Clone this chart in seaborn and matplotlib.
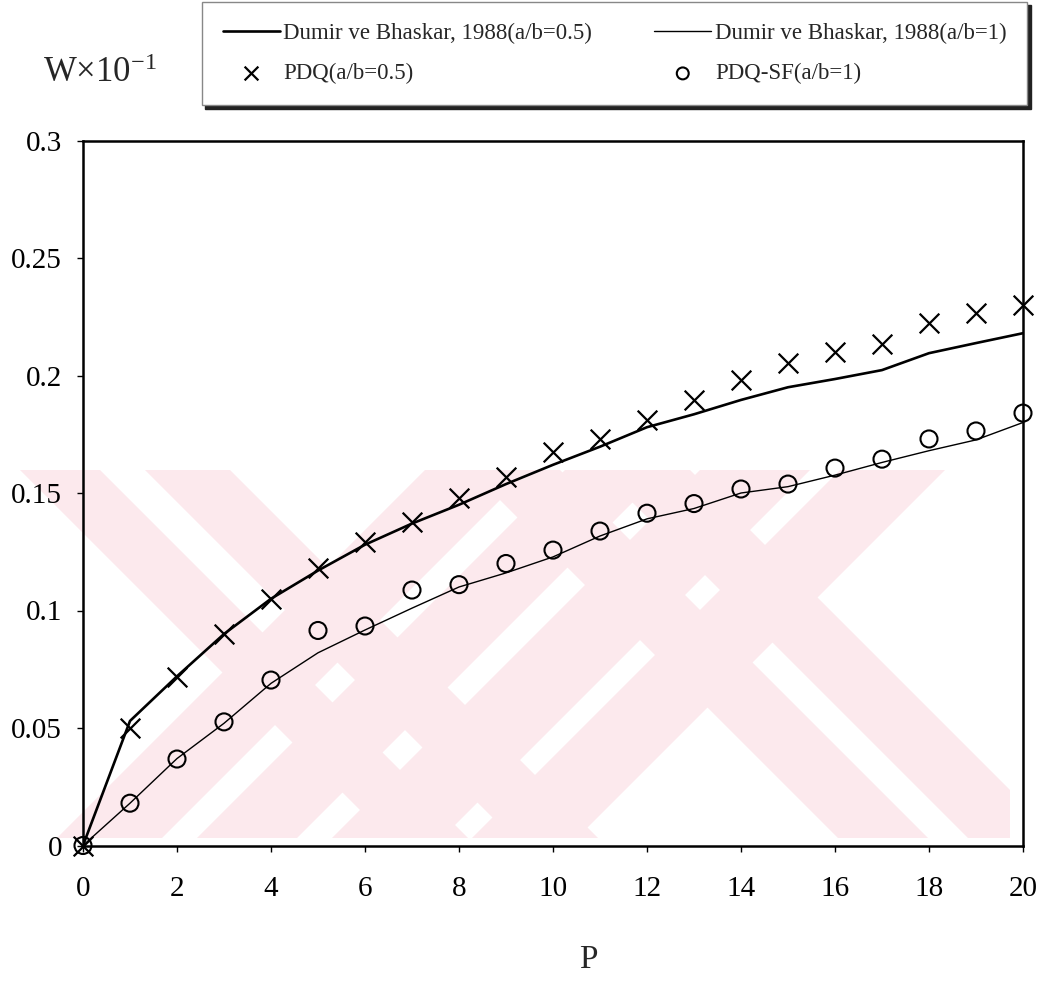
import matplotlib
matplotlib.use("Agg")
import matplotlib.pyplot as plt
import seaborn as sns
from matplotlib.patches import Polygon, Rectangle

# ---------------- data ----------------
P = list(range(21))
dumir_05 = [0, 0.053, 0.072, 0.090, 0.105, 0.117, 0.128, 0.137, 0.145, 0.1538, 0.162,
            0.1697, 0.178, 0.1835, 0.1896, 0.195, 0.1985, 0.2023, 0.2095, 0.2138, 0.218]
dumir_1 = [0, 0.018, 0.037, 0.052, 0.069, 0.082, 0.0917, 0.101, 0.110, 0.116, 0.1228,
           0.1317, 0.139, 0.1434, 0.150, 0.1527, 0.1576, 0.163, 0.168, 0.1726, 0.180]
pdq_05 = [0, 0.050, 0.0715, 0.090, 0.105, 0.118, 0.129, 0.1377, 0.148, 0.157, 0.1675,
          0.173, 0.181, 0.1895, 0.198, 0.2054, 0.210, 0.2134, 0.2223, 0.2266, 0.230]
pdq_sf_1 = [0, 0.018, 0.0368, 0.0526, 0.0704, 0.0915, 0.0934, 0.1087, 0.111, 0.120, 0.1257,
            0.1338, 0.1414, 0.1455, 0.1517, 0.1538, 0.1606, 0.1644, 0.173, 0.1764, 0.184]

label_d05 = "Dumir ve Bhaskar, 1988(a/b=0.5)"
label_d1 = "Dumir ve Bhaskar, 1988(a/b=1)"
label_p05 = "PDQ(a/b=0.5)"
label_p1 = "PDQ-SF(a/b=1)"

x_ticks = [0, 2, 4, 6, 8, 10, 12, 14, 16, 18, 20]
y_ticks = [0, 0.05, 0.1, 0.15, 0.2, 0.25, 0.3]
y_tick_labels = ["0", "0.05", "0.1", "0.15", "0.2", "0.25", "0.3"]
x_label = "P"
y_label = "W\u00d710$^{\\mathregular{-1}}$"

# ---------------- style ----------------
sns.set_style("ticks")
plt.rcParams["font.family"] = ["Liberation Serif", "DejaVu Serif"]
plt.rcParams["mathtext.fontset"] = "custom"
plt.rcParams["mathtext.rm"] = "Liberation Serif"
plt.rcParams["mathtext.it"] = "Liberation Serif:italic"

W, H = 1050, 981
fig = plt.figure(figsize=(W / 100, H / 100), dpi=100)
fig.patch.set_facecolor("white")
ax = fig.add_axes([83 / W, 1 - 845.5 / H, 940 / W, 705 / H])
ax.patch.set_alpha(0)


def fpt(x, y):
    return (x / W, 1 - y / H)


# faint background watermark (decorative)
wy0, wy1 = 470, 838
hs = wy1 - wy0
clip = Rectangle(fpt(0, wy1), 1010 / W, hs / H, transform=fig.transFigure,
                 facecolor="none", edgecolor="none")
fig.add_artist(clip)
clip.set_visible(False)
bands = [(20, 100, 1), (145, 230, 1), (425, 530, -1), (565, 665, -1),
         (470, 560, 1), (600, 690, 1), (700, 810, -1), (840, 945, -1)]
for a, b, d in bands:
    pts = [fpt(a, wy0), fpt(b, wy0), fpt(b + d * hs, wy1), fpt(a + d * hs, wy1)]
    poly = Polygon(pts, closed=True, transform=fig.transFigure,
                   facecolor="#fce9ed", edgecolor="none", zorder=-5)
    fig.add_artist(poly)
    poly.set_clip_path(clip)

# ---------------- plot ----------------
sns.lineplot(x=P, y=dumir_05, color="black", linewidth=1.9, label=label_d05, ax=ax)
sns.lineplot(x=P, y=dumir_1, color="black", linewidth=1.0, label=label_d1, ax=ax)
sns.scatterplot(x=P, y=pdq_05, marker="x", s=200, color="black", linewidth=1.6,
                label=label_p05, ax=ax, clip_on=False, zorder=4)
sns.scatterplot(x=P, y=pdq_sf_1, marker="o", s=150, label=label_p1, ax=ax,
                clip_on=False, zorder=4)
circ = ax.collections[-1]
circ.set_facecolor("none")
circ.set_edgecolor("black")
circ.set_linewidth(1.5)

ax.set_xlim(0, 20)
ax.set_ylim(0, 0.3)
ax.set_xticks(x_ticks)
ax.set_xticklabels([str(v) for v in x_ticks])
ax.set_yticks(y_ticks)
ax.set_yticklabels(y_tick_labels)
ax.set_xlabel("")
ax.set_ylabel("")
for s in ax.spines.values():
    s.set_visible(True)
    s.set_color("black")
    s.set_linewidth(1.8)
ax.tick_params(axis="x", direction="out", length=4, width=1, pad=18, labelsize=21,
               colors="black")
ax.tick_params(axis="y", direction="out", length=4, width=1, pad=11, labelsize=21,
               colors="black")

fig.text(588 / W, 1 - 960 / H, x_label, fontsize=24, ha="center", va="center")
fig.text(43 / W, 1 - 73 / H, y_label, fontsize=25, ha="left", va="center")

# ---------------- legend ----------------
handles, labels = ax.get_legend_handles_labels()
ax.legend_.remove()
hmap = dict(zip(labels, handles))
order = [label_d05, label_p05, label_d1, label_p1]
leg = fig.legend([hmap[k] for k in order], order, ncol=2, loc="upper left",
                 bbox_to_anchor=(202 / W, 1 - 2 / H), bbox_transform=fig.transFigure,
                 borderaxespad=0, frameon=True, fancybox=False, edgecolor="#888888",
                 framealpha=1, facecolor="white",
                 shadow={"ox": 2.5, "oy": -2.5, "color": "#222222", "alpha": 1},
                 fontsize=16.5, handlelength=2.5, handletextpad=0.15,
                 columnspacing=2.7, labelspacing=0.85, borderpad=0.9, markerscale=0.7)
leg.get_frame().set_linewidth(1.0)

fig.savefig("out.png", dpi=100, facecolor="white")
